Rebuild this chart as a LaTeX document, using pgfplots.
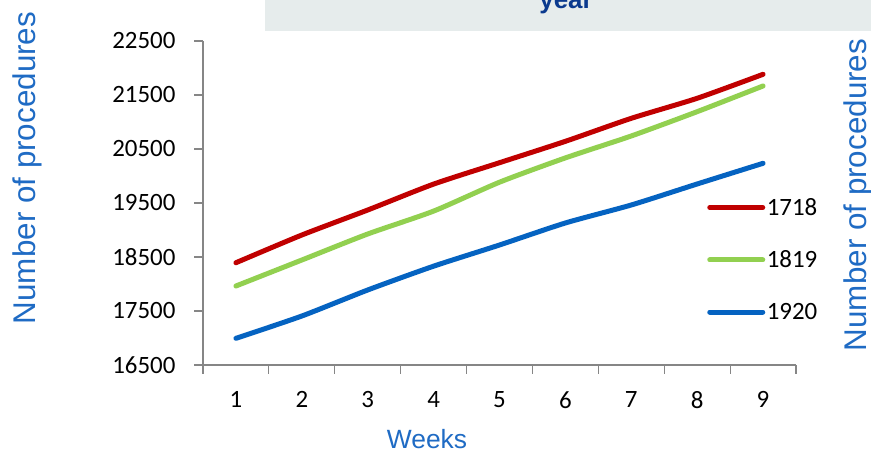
\documentclass[border=0pt]{standalone}
\usepackage{pgfplots}
\pgfplotsset{compat=1.18}
\usepackage{fontspec}
\setmainfont{Liberation Sans}
\newfontfamily\carlito{Carlito}

\definecolor{serA}{HTML}{C00000}
\definecolor{serB}{HTML}{92D050}
\definecolor{serC}{HTML}{0563C1}
\definecolor{labblue}{HTML}{1F6BC4}
\definecolor{titleblue}{HTML}{0B3A8E}
\definecolor{boxgray}{HTML}{E6ECEC}
\definecolor{axgray}{HTML}{868686}

\begin{document}
\begin{tikzpicture}[x=1bp,y=1bp]
\useasboundingbox (0,0) rectangle (871,453);

% title banner (top of the title runs off the page)
\begin{scope}
\clip (0,0) rectangle (871,453);
\fill[boxgray] (265,422) rectangle (871,453);
\node[anchor=base, text=titleblue, font=\bfseries\fontsize{26}{31}\selectfont, inner sep=0] at (566,444) {year};
\end{scope}

\begin{axis}[
  at={(203bp,88bp)}, anchor=south west,
  scale only axis, width=593bp, height=324bp,
  xmin=0.5, xmax=9.5, ymin=16500, ymax=22500,
  axis x line=bottom, axis y line=left,
  axis line style={-, axgray, line width=1.2bp},
  xtick={1,...,9},
  minor xtick={0.5,1.5,...,9.5},
  ytick={16500,17500,...,22500},
  scaled y ticks=false,
  tick align=outside,
  major x tick style={draw=none},
  every tick/.style={axgray, line width=1.2bp},
  minor tick length=9bp, major tick length=9bp,
  tick label style={font=\carlito\fontsize{25}{30}\selectfont, text=black},
  /pgf/number format/assume math mode=true,
  /pgf/number format/1000 sep={},
  yticklabel style={xshift=-15bp},
  xticklabel style={yshift=-14bp},
  legend style={draw=none, fill=none, at={(0.85,0.52)}, anchor=north west,
    font=\carlito\fontsize{25}{30}\selectfont, inner sep=0pt,
    row sep=31bp, nodes={inner sep=1.5bp}},
  legend cell align=left,
  legend image code/.code={\draw[#1, line cap=round] (0bp,0bp) -- (53bp,0bp);},
  clip=false,
]
\addplot[serA, line width=5bp, smooth, tension=0.4, line cap=round] coordinates {
  (1,18394) (2,18907) (3,19370) (4,19850) (5,20246) (6,20642) (7,21068) (8,21439) (9,21883)};
\addlegendentry{1718}
\addplot[serB, line width=5bp, smooth, tension=0.4, line cap=round] coordinates {
  (1,17963) (2,18444) (3,18926) (4,19350) (5,19885) (6,20335) (7,20741) (8,21191) (9,21667)};
\addlegendentry{1819}
\addplot[serC, line width=5bp, smooth, tension=0.4, line cap=round] coordinates {
  (1,16994) (2,17407) (3,17889) (4,18330) (5,18722) (6,19130) (7,19463) (8,19852) (9,20235)};
\addlegendentry{1920}
\end{axis}

% axis titles
\node[rotate=90, anchor=base, text=labblue, font=\fontsize{31.5}{37}\selectfont, inner sep=0] at (35,285) {Number of procedures};
\node[rotate=90, anchor=base, text=labblue, font=\fontsize{31.5}{37}\selectfont, inner sep=0] at (866,258) {Number of procedures};
\node[anchor=base, text=labblue, font=\fontsize{26.5}{32}\selectfont, inner sep=0] at (427,4) {Weeks};
\end{tikzpicture}
\end{document}
